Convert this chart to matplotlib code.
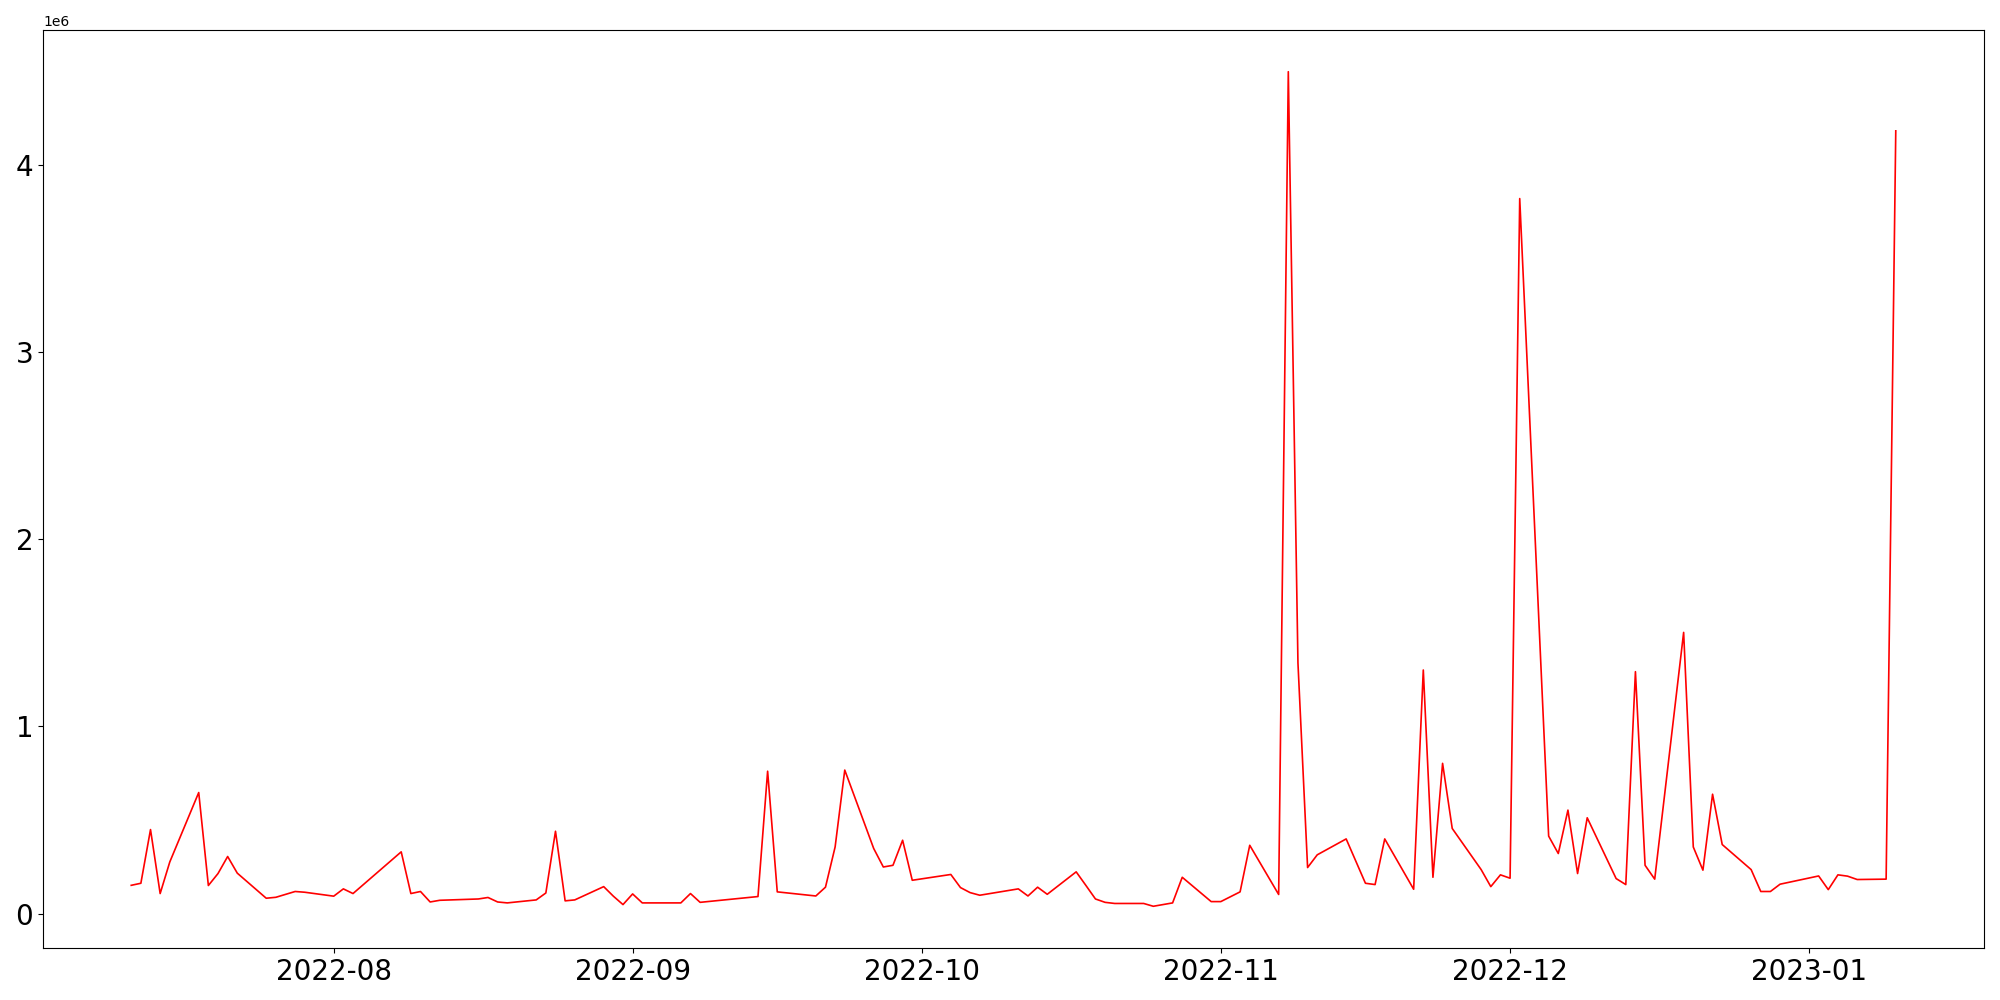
import matplotlib.pyplot as plt
import pandas as pd

# Dates and values (in millions)
dates = ['2022-07-11', '2022-07-12', '2022-07-13', '2022-07-14', '2022-07-15',
         '2022-07-18', '2022-07-19', '2022-07-20', '2022-07-21', '2022-07-22',
         '2022-07-25', '2022-07-26', '2022-07-28', '2022-07-29',
         '2022-08-01', '2022-08-02', '2022-08-03', '2022-08-08', '2022-08-09',
         '2022-08-10', '2022-08-11', '2022-08-12', '2022-08-16', '2022-08-17',
         '2022-08-18', '2022-08-19', '2022-08-22', '2022-08-23', '2022-08-24',
         '2022-08-25', '2022-08-26', '2022-08-29', '2022-08-30', '2022-08-31',
         '2022-09-01', '2022-09-02', '2022-09-06', '2022-09-07', '2022-09-08',
         '2022-09-14', '2022-09-15', '2022-09-16', '2022-09-20', '2022-09-21',
         '2022-09-22', '2022-09-23', '2022-09-26', '2022-09-27', '2022-09-28',
         '2022-09-29', '2022-09-30',
         '2022-10-04', '2022-10-05', '2022-10-06', '2022-10-07', '2022-10-11',
         '2022-10-12', '2022-10-13', '2022-10-14', '2022-10-17', '2022-10-18',
         '2022-10-19', '2022-10-20', '2022-10-21', '2022-10-24', '2022-10-25',
         '2022-10-27', '2022-10-28', '2022-10-31',
         '2022-11-01', '2022-11-03', '2022-11-04', '2022-11-07', '2022-11-08',
         '2022-11-09', '2022-11-10', '2022-11-11', '2022-11-14', '2022-11-16',
         '2022-11-17', '2022-11-18', '2022-11-21', '2022-11-22', '2022-11-23',
         '2022-11-24', '2022-11-25', '2022-11-28', '2022-11-29', '2022-11-30',
         '2022-12-01', '2022-12-02', '2022-12-05', '2022-12-06', '2022-12-07',
         '2022-12-08', '2022-12-09', '2022-12-12', '2022-12-13', '2022-12-14',
         '2022-12-15', '2022-12-16', '2022-12-19', '2022-12-20', '2022-12-21',
         '2022-12-22', '2022-12-23', '2022-12-26', '2022-12-27', '2022-12-28',
         '2022-12-29',
         '2023-01-02', '2023-01-03', '2023-01-04', '2023-01-05', '2023-01-06',
         '2023-01-09', '2023-01-10']

values = [0.151, 0.162, 0.449, 0.107, 0.276,
          0.647, 0.150, 0.214, 0.305, 0.216,
          0.082, 0.087, 0.118, 0.114,
          0.093, 0.132, 0.107, 0.330, 0.107,
          0.118, 0.062, 0.071, 0.078, 0.086,
          0.062, 0.057, 0.073, 0.110, 0.440,
          0.068, 0.073, 0.144, 0.093, 0.048,
          0.105, 0.057, 0.057, 0.107, 0.060,
          0.091, 0.761, 0.116, 0.094, 0.141,
          0.356, 0.767, 0.348, 0.249, 0.258,
          0.392, 0.178,
          0.209, 0.139, 0.112, 0.098, 0.132,
          0.094, 0.141, 0.103, 0.223, 0.151,
          0.078, 0.060, 0.054, 0.054, 0.039,
          0.057, 0.194, 0.064,
          0.064, 0.116, 0.365, 0.102, 4.500,
          1.340, 0.246, 0.314, 0.399, 0.162,
          0.155, 0.399, 0.130, 1.302, 0.194,
          0.803, 0.455, 0.235, 0.144, 0.207,
          0.189, 3.822, 0.414, 0.321, 0.553,
          0.214, 0.512, 0.187, 0.155, 1.293,
          0.258, 0.184, 1.503, 0.356, 0.232,
          0.638, 0.369, 0.235, 0.118, 0.118,
          0.157,
          0.201, 0.128, 0.207, 0.200, 0.182,
          0.184, 4.184]

x = pd.to_datetime(dates)
y = [v * 1e6 for v in values]

fig, ax = plt.subplots(figsize=(20, 10), dpi=100)
ax.plot(x, y, color='red', linewidth=1.2)

ax.tick_params(axis='both', labelsize=20)

plt.subplots_adjust(left=0.0215, right=0.992, top=0.97, bottom=0.052)
plt.savefig('out.png')
